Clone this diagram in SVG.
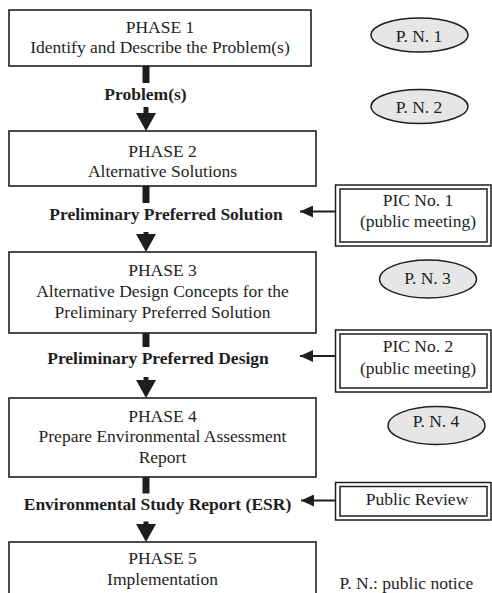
<svg xmlns="http://www.w3.org/2000/svg" width="492" height="593" viewBox="0 0 492 593">
<defs>
<style>
text{font-family:"Liberation Serif","Times New Roman",serif;font-size:17.5px;fill:#1e1e1e}
.c{text-anchor:middle}
.b{font-weight:bold}
.box{fill:#fff;stroke:#1e1e1e;stroke-width:1.6}
.ell{fill:#e6e6e6;stroke:#1e1e1e;stroke-width:1.4}
.dbl{fill:#fff;stroke:#1e1e1e;stroke-width:1.5}
.bar{fill:#1e1e1e}
.ln{stroke:#1e1e1e;stroke-width:2;fill:none}
</style>
<marker id="ah" markerWidth="14" markerHeight="12" refX="13" refY="6" orient="auto" markerUnits="userSpaceOnUse">
<path d="M0,0 L13,6 L0,12 Z" fill="#1e1e1e"/>
</marker>
</defs>
<rect width="492" height="593" fill="#fff"/>

<g id="phase1">
<rect class="box" x="9" y="10" width="302" height="56"/>
<text class="c" x="160" y="32.5">PHASE 1</text>
<text class="c" x="160" y="52.5">Identify and Describe the Problem(s)</text>
</g>
<g id="phase2">
<rect class="box" x="9" y="131" width="307" height="55"/>
<text class="c" x="162.5" y="157">PHASE 2</text>
<text class="c" x="162.5" y="177">Alternative Solutions</text>
</g>
<g id="phase3">
<rect class="box" x="9" y="252" width="307" height="81"/>
<text class="c" x="162.5" y="276">PHASE 3</text>
<text class="c" x="162.5" y="297">Alternative Design Concepts for the</text>
<text class="c" x="162.5" y="318">Preliminary Preferred Solution</text>
</g>
<g id="phase4">
<rect class="box" x="9" y="398" width="307" height="79"/>
<text class="c" x="162.5" y="422">PHASE 4</text>
<text class="c" x="162.5" y="442">Prepare Environmental Assessment</text>
<text class="c" x="162.5" y="463">Report</text>
</g>
<g id="phase5">
<rect class="box" x="9" y="542" width="307" height="70"/>
<text class="c" x="162.5" y="563.5">PHASE 5</text>
<text class="c" x="162.5" y="585">Implementation</text>
</g>

<g id="pn1">
<ellipse class="ell" cx="419.5" cy="35" rx="48.5" ry="17"/>
<text class="c" x="419" y="41.5">P. N. 1</text>
</g>
<g id="pn2">
<ellipse class="ell" cx="419.5" cy="106.5" rx="48.5" ry="17"/>
<text class="c" x="419" y="113">P. N. 2</text>
</g>
<g id="pn3">
<ellipse class="ell" cx="428" cy="279" rx="48.5" ry="19"/>
<text class="c" x="427.5" y="283.5">P. N. 3</text>
</g>
<g id="pn4">
<ellipse class="ell" cx="436.5" cy="425.5" rx="48.5" ry="19"/>
<text class="c" x="436" y="427">P. N. 4</text>
</g>

<g id="pic1">
<rect class="dbl" x="335.5" y="185" width="155.5" height="61"/>
<rect class="dbl" x="340" y="189" width="147" height="53"/>
<text class="c" x="418" y="206">PIC No. 1</text>
<text class="c" x="418" y="227">(public meeting)</text>
</g>
<g id="pic2">
<rect class="dbl" x="335.5" y="330" width="155.5" height="62"/>
<rect class="dbl" x="340" y="334" width="147" height="54"/>
<text class="c" x="418" y="352">PIC No. 2</text>
<text class="c" x="418" y="373.5">(public meeting)</text>
</g>
<g id="review">
<rect class="dbl" x="335.5" y="482.5" width="155.5" height="37.5"/>
<rect class="dbl" x="340" y="486.5" width="147" height="29.5"/>
<text class="c" x="417" y="505">Public Review</text>
</g>

<g id="labels">
<text class="c b" x="145.5" y="100">Problem(s)</text>
<text class="c b" x="166" y="220">Preliminary Preferred Solution</text>
<text class="c b" x="158" y="363.5">Preliminary Preferred Design</text>
<text class="c b" x="157.5" y="509.5">Environmental Study Report (ESR)</text>
</g>

<g id="connectors">
<rect class="bar" x="142.5" y="66" width="7" height="17"/>
<rect class="bar" x="143.5" y="107" width="5" height="7"/>
<path class="bar" d="M136,113 L156,113 L146,131 Z"/>

<rect class="bar" x="142.5" y="186" width="7" height="17"/>
<rect class="bar" x="143.5" y="232" width="5" height="7"/>
<path class="bar" d="M136,234 L156,234 L146,252 Z"/>

<rect class="bar" x="142.5" y="333" width="7" height="14"/>
<rect class="bar" x="143.5" y="377" width="5" height="6"/>
<path class="bar" d="M136,380 L156,380 L146,398 Z"/>

<rect class="bar" x="142.5" y="477" width="7" height="16.5"/>
<rect class="bar" x="143.5" y="521.5" width="5" height="6"/>
<path class="bar" d="M136,524 L156,524 L146,542 Z"/>

<line class="ln" x1="335.5" y1="211.5" x2="300" y2="211.5" marker-end="url(#ah)"/>
<line class="ln" x1="335.5" y1="356" x2="300" y2="356" marker-end="url(#ah)"/>
<line class="ln" x1="335.5" y1="500.5" x2="301" y2="500.5" marker-end="url(#ah)"/>
</g>

<g id="legend">
<text x="339.5" y="589">P. N.: public notice</text>
</g>
</svg>
